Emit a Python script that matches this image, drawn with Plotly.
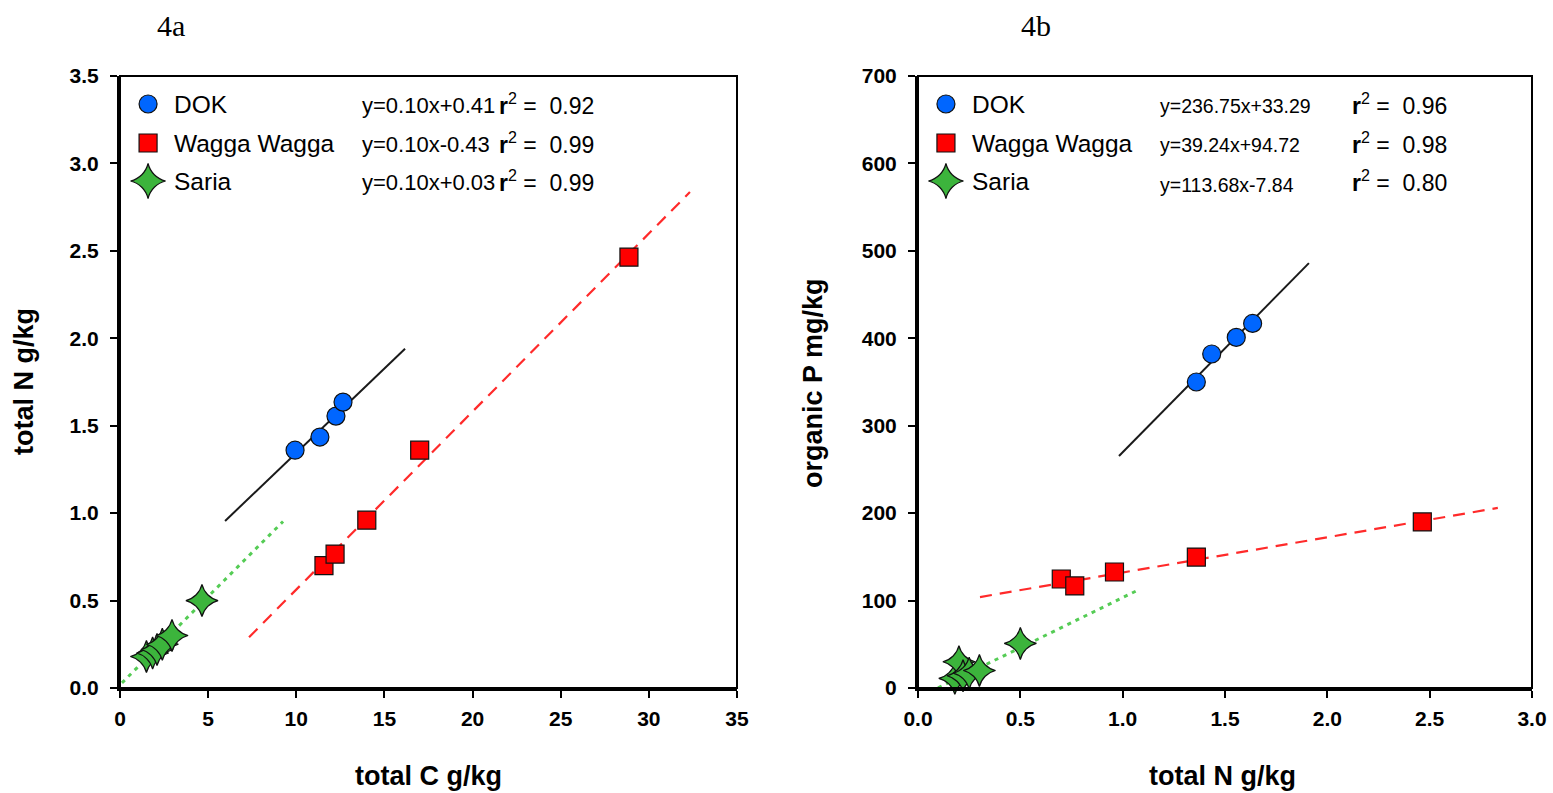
import numpy as np
import plotly.graph_objects as go

# ---------------- data ----------------
series = ["DOK", "Wagga Wagga", "Saria"]

dok_C = [9.93, 11.34, 12.25, 12.65]
dok_N = [1.36, 1.435, 1.555, 1.635]
dok_P = [350, 382, 401, 417]

wag_C = [11.57, 12.2, 14.0, 17.0, 28.87]
wag_N = [0.70, 0.766, 0.96, 1.36, 2.464]
wag_P = [124.7, 116.7, 132.7, 149.8, 189.9]

sar_C = [1.5, 1.85, 2.1, 2.4, 2.95, 4.65]
sar_N = [0.18, 0.20, 0.22, 0.25, 0.30, 0.50]
sar_P = [11, 30, 14, 17, 20, 51]

# regression lines: slope, intercept, x-range (as drawn)
lineA_slope = [0.0965, 0.1018, 0.101]
lineA_icpt = [0.38, -0.455, 0.018]
lineA_x0 = [5.96, 7.32, 0.11]
lineA_x1 = [16.17, 32.33, 9.25]

lineB_slope = [237.7, 40.3, 114.6]
lineB_icpt = [32.0, 91.8, -11.2]
lineB_x0 = [0.982, 0.303, 0.098]
lineB_x1 = [1.91, 2.833, 1.075]

eqA = ["y=0.10x+0.41", "y=0.10x-0.43", "y=0.10x+0.03"]
r2A = ["0.92", "0.99", "0.99"]
eqB = ["y=236.75x+33.29", "y=39.24x+94.72", "y=113.68x-7.84"]
r2B = ["0.96", "0.98", "0.80"]

xticksA = [0, 5, 10, 15, 20, 25, 30, 35]
yticksA = [0.0, 0.5, 1.0, 1.5, 2.0, 2.5, 3.0, 3.5]
xticksB = [0.0, 0.5, 1.0, 1.5, 2.0, 2.5, 3.0]
yticksB = [0, 100, 200, 300, 400, 500, 600, 700]

# ---------------- styles ----------------
W, H = 1553, 793
FONT = "Liberation Sans, Arial, sans-serif"
styles = [
    dict(symbol="circle", color="#0066ff", size=18, dsize=18),
    dict(symbol="square", color="#ff0000", size=18, dsize=18),
    dict(symbol="star-diamond", color="#3cb43c", size=25, dsize=23),
]
lines = [
    dict(color="#1a1a1a", width=2, dash="solid"),
    dict(color="#ff2a2a", width=2.2, dash="12px,8px"),
    dict(color="#55cc55", width=3, dash="4px,5px"),
]

domA = [120 / W, 737 / W]
domB = [918 / W, 1532 / W]
domY = [(H - 688) / H, (H - 76) / H]

fig = go.Figure()

def add_panel(xs, ys, slopes, icpts, x0s, x1s, xa, ya):
    for i in range(3):
        lx = np.array([x0s[i], x1s[i]])
        fig.add_trace(go.Scatter(x=lx, y=slopes[i] * lx + icpts[i], mode="lines",
                                 line=lines[i], xaxis=xa, yaxis=ya,
                                 showlegend=False, hoverinfo="skip"))
    for i in range(3):
        s = styles[i]
        fig.add_trace(go.Scatter(x=xs[i], y=ys[i], mode="markers", name=series[i],
                                 marker=dict(symbol=s["symbol"], color=s["color"], size=s["dsize"],
                                             line=dict(color="#111", width=1.2)),
                                 xaxis=xa, yaxis=ya, showlegend=False, cliponaxis=False))

add_panel([dok_C, wag_C, sar_C], [dok_N, wag_N, sar_N],
          lineA_slope, lineA_icpt, lineA_x0, lineA_x1, "x", "y")
add_panel([dok_N, wag_N, sar_N], [dok_P, wag_P, sar_P],
          lineB_slope, lineB_icpt, lineB_x0, lineB_x1, "x2", "y2")

# legend glyphs on overlay axes (0..1 domain fractions)
leg_y = [(688 - 104) / 612, (688 - 143) / 612, (688 - 181) / 612]
for xa, ya in (("x3", "y3"), ("x4", "y4")):
    for i in range(3):
        s = styles[i]
        fig.add_trace(go.Scatter(x=[0.0455], y=[leg_y[i]], mode="markers",
                                 marker=dict(symbol=s["symbol"], color=s["color"], size=s["size"],
                                             line=dict(color="#111", width=1.2)),
                                 xaxis=xa, yaxis=ya, showlegend=False, hoverinfo="skip"))

axis_common = dict(showline=True, linecolor="black", linewidth=3, mirror=False,
                   ticks="outside", ticklen=7, tickwidth=2, tickcolor="black",
                   showgrid=False, zeroline=False, automargin=False,
                   tickfont=dict(family=FONT, size=21, color="black", weight="bold"))

fig.update_layout(
    template="none",
    width=W, height=H, margin=dict(l=0, r=0, t=0, b=0, pad=0),
    paper_bgcolor="white", plot_bgcolor="white", showlegend=False,
    xaxis=dict(domain=domA, range=[0, 35], tickvals=xticksA, anchor="y", ticklabelstandoff=3, **axis_common),
    yaxis=dict(domain=domY, range=[0, 3.5], tickvals=yticksA, tickformat=".1f", anchor="x",
               ticklabelstandoff=7, **axis_common),
    xaxis2=dict(domain=domB, range=[0, 3], tickvals=xticksB, tickformat=".1f", anchor="y2",
                ticklabelstandoff=3, **axis_common),
    yaxis2=dict(domain=domY, range=[0, 700], tickvals=yticksB, anchor="x2", ticklabelstandoff=7, **axis_common),
    xaxis3=dict(domain=domA, range=[0, 1], visible=False, overlaying="x", anchor="y3", automargin=False),
    yaxis3=dict(domain=domY, range=[0, 1], visible=False, overlaying="y", anchor="x3", automargin=False),
    xaxis4=dict(domain=domB, range=[0, 1], visible=False, overlaying="x2", anchor="y4", automargin=False),
    yaxis4=dict(domain=domY, range=[0, 1], visible=False, overlaying="y2", anchor="x4", automargin=False),
)

# frame (top/right thinner than the axes)
for xr, yr in (("x domain", "y domain"), ("x2 domain", "y2 domain")):
    fig.add_shape(type="rect", xref=xr, yref=yr, x0=0, x1=1, y0=0, y1=1,
                  line=dict(color="black", width=2), layer="above")

ann = []
def txt(text, x, y, xref, yref, size=22, xanchor="left", **kw):
    ann.append(dict(text=text, x=x, y=y, xref=xref, yref=yref, showarrow=False,
                    xanchor=xanchor, yanchor="middle",
                    font=dict(family=kw.get("family", FONT), size=size, color="black",
                              weight=kw.get("weight", "normal"))))

for p, (xr, yr, eqs, r2s, ex, rx, esz) in enumerate([
        ("x domain", "y domain", eqA, r2A, (360 - 120) / 617, (497 - 120) / 617, 22),
        ("x2 domain", "y2 domain", eqB, r2B, (1158 - 918) / 614, (1350 - 918) / 614, 19.5)]):
    for i in range(3):
        txt(series[i], 0.0845, leg_y[i], xr, yr, size=24.5)
        dy = 0.006 if (p == 1 and i == 2) else 0.003
        txt(eqs[i], ex, leg_y[i] - dy, xr, yr, size=esz)
        txt("<b>r</b><sup>2</sup> =&nbsp; " + r2s[i], rx, leg_y[i], xr, yr, size=23)

# axis titles
txt("total C g/kg", 428 / W, (H - 776) / H, "paper", "paper", size=27, xanchor="center", weight="bold")
txt("total N g/kg", 1222 / W, (H - 776) / H, "paper", "paper", size=27, xanchor="center", weight="bold")
ann.append(dict(text="total N g/kg", x=24 / W, y=(H - 382) / H, xref="paper", yref="paper",
                showarrow=False, textangle=-90, xanchor="center", yanchor="middle",
                font=dict(family=FONT, size=27, color="black", weight="bold")))
ann.append(dict(text="organic P mg/kg", x=813 / W, y=(H - 383) / H, xref="paper", yref="paper",
                showarrow=False, textangle=-90, xanchor="center", yanchor="middle",
                font=dict(family=FONT, size=27, color="black", weight="bold")))
# panel labels
txt("4a", 171 / W, (H - 25) / H, "paper", "paper", size=30, xanchor="center",
    family="Liberation Serif, Times New Roman, serif")
txt("4b", 1036 / W, (H - 25) / H, "paper", "paper", size=30, xanchor="center",
    family="Liberation Serif, Times New Roman, serif")

fig.update_layout(annotations=ann)
fig.write_html("out.html")
